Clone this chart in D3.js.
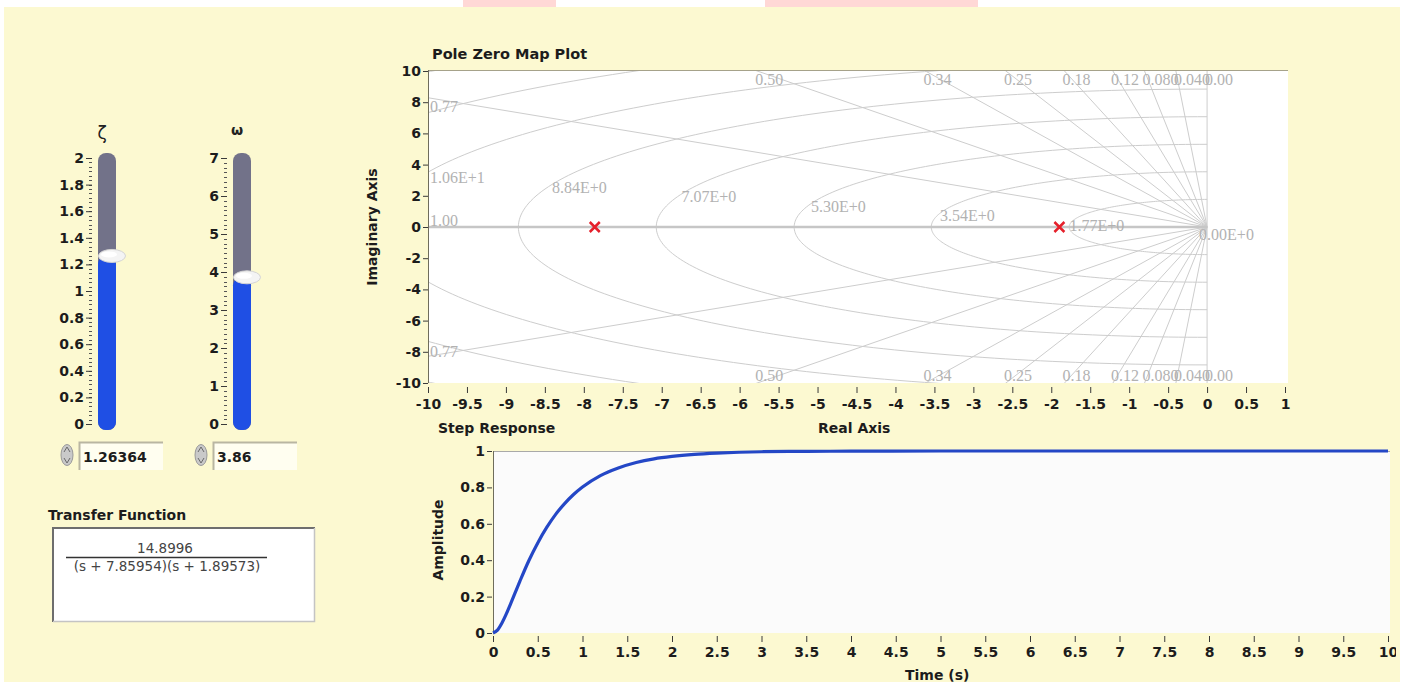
<!DOCTYPE html>
<meta charset="utf-8">
<style>
body { margin: 0; background: #fff; }
svg { display: block; }
.tick text, .lbl { font: bold 14px "DejaVu Sans", sans-serif; fill: #1c1c1c; }
.tick line { stroke: #3a3a3a; }
.grid path, .grid line { fill: none; stroke: #cdcdcd; stroke-width: 1; }
.grid text { font: 16px "Liberation Serif", serif; fill: #b2b2b2; }
.minor { stroke: #555; stroke-width: 1; }
.tf { font: 13.5px "DejaVu Sans", sans-serif; fill: #444; }
</style>

<svg width="1405" height="682"></svg>
<script src="https://cdn.jsdelivr.net/npm/d3@7"></script>

<script>

// slider scales and values
var zetaTicks = [0, 0.2, 0.4, 0.6, 0.8, 1, 1.2, 1.4, 1.6, 1.8, 2];
var omegaTicks = [0, 1, 2, 3, 4, 5, 6, 7];
var zetaValue = 1.26364;
var omegaValue = 3.86;

// transfer function
var gain = "14.8996";
var poleText = ["7.85954", "1.89573"];

// pole zero map
var poles = [-7.85954, -1.89573];
var reTicks = [-10, -9.5, -9, -8.5, -8, -7.5, -7, -6.5, -6, -5.5, -5, -4.5, -4, -3.5, -3, -2.5, -2, -1.5, -1, -0.5, 0, 0.5, 1];
var imTicks = [-10, -8, -6, -4, -2, 0, 2, 4, 6, 8, 10];
var dampingRatios = [0, 0.04, 0.08, 0.12, 0.18, 0.25, 0.34, 0.50, 0.77, 1.00];
var dampingLabels = ["0.00", "0.040", "0.080", "0.12", "0.18", "0.25", "0.34", "0.50", "0.77", "1.00"];
var natFreqs = [0, 1.77, 3.54, 5.30, 7.07, 8.84, 10.6, 12.4, 14.1];
var natFreqLabels = ["0.00E+0", "1.77E+0", "3.54E+0", "5.30E+0", "7.07E+0", "8.84E+0", "1.06E+1", "", ""];

// step response
var stepTime = [0, 0.05, 0.1, 0.15, 0.2, 0.3, 0.4, 0.5, 0.6, 0.7, 0.8, 0.9, 1.0, 1.2, 1.4, 1.6, 1.8, 2.0, 2.25, 2.5, 3.0, 3.5, 4.0, 5.0, 6, 7, 8, 9, 10];
var stepAmp = [0, 0.016, 0.055, 0.106, 0.164, 0.284, 0.397, 0.495, 0.580, 0.652, 0.711, 0.761, 0.802, 0.865, 0.907, 0.937, 0.957, 0.970, 0.981, 0.988, 0.996, 0.998, 0.999, 1, 1, 1, 1, 1, 1];
var timeTicks = [0, 0.5, 1, 1.5, 2, 2.5, 3, 3.5, 4, 4.5, 5, 5.5, 6, 6.5, 7, 7.5, 8, 8.5, 9, 9.5, 10];
var ampTicks = [0, 0.2, 0.4, 0.6, 0.8, 1];

var svg = d3.select("svg");

// panel background + the pink bits along the top edge
svg.append("rect").attr("x", 4).attr("y", 7).attr("width", 1396).attr("height", 675).attr("fill", "#fcf9d1");
svg.append("rect").attr("x", 463).attr("y", 0).attr("width", 93).attr("height", 7).attr("fill", "#ffd8d6");
svg.append("rect").attr("x", 765).attr("y", 0).attr("width", 213).attr("height", 7).attr("fill", "#ffd8d6");

function noDomain(g) { g.select(".domain").remove(); }

// ---------- vertical sliders ----------
function slider(x, max, ticks, minorStep, value, symbol, symStyle) {
    var g = svg.append("g");
    var y = d3.scaleLinear().domain([0, max]).range([424, 158]);

    g.append("text")
        .attr("x", x + 4).attr("y", symStyle.y)
        .attr("text-anchor", "middle")
        .style("font", symStyle.font)
        .style("fill", "#222")
        .text(symbol);

    g.selectAll(".minor")
        .data(d3.range(0, max + 1e-9, minorStep))
        .enter().append("line")
        .attr("class", "minor")
        .attr("x1", x - 9).attr("x2", x - 6)
        .attr("y1", function(d) { return Math.round(y(d)) + 0.5; })
        .attr("y2", function(d) { return Math.round(y(d)) + 0.5; });

    g.append("g")
        .attr("transform", "translate(" + (x - 6) + ",0)")
        .call(d3.axisLeft(y).tickValues(ticks).tickSize(6).tickPadding(2).tickFormat(String))
        .call(noDomain);

    g.append("rect")
        .attr("x", x).attr("y", 153).attr("width", 18).attr("height", 277).attr("rx", 8)
        .attr("fill", "#727289");
    g.append("rect")
        .attr("x", x).attr("y", y(value)).attr("width", 18).attr("height", 430 - y(value)).attr("rx", 8)
        .attr("fill", "#1f4fe4");

    g.append("ellipse")
        .attr("cx", x + 14).attr("cy", y(value))
        .attr("rx", 13.5).attr("ry", 6.5)
        .attr("fill", "#f4f4f4").attr("stroke", "#d4d4d4");
    g.append("ellipse")
        .attr("cx", x + 11).attr("cy", y(value) - 1.5)
        .attr("rx", 8).attr("ry", 3)
        .attr("fill", "#ffffff");
}

slider(98, 2, zetaTicks, 0.2 / 6, zetaValue, "\u03B6", {y: 139, font: "17px 'DejaVu Sans', sans-serif"});
slider(233, 7, omegaTicks, 1 / 8, omegaValue, "\u03C9", {y: 135, font: "bold 14px 'DejaVu Sans', sans-serif"});

// numeric controls below the sliders
function numeric(x, text) {
    var g = svg.append("g");
    g.append("ellipse").attr("cx", x - 12).attr("cy", 455).attr("rx", 6).attr("ry", 10.5)
        .attr("fill", "#c9c9c9").attr("stroke", "#9a9a9a");
    g.append("path")
        .attr("d", "M" + (x - 15) + ",452 l3,-5 l3,5 M" + (x - 15) + ",458 l3,5 l3,-5")
        .attr("fill", "none").attr("stroke", "#6a6a6a");
    g.append("rect").attr("x", x).attr("y", 442).attr("width", 84).attr("height", 28).attr("fill", "#fffef0");
    g.append("path").attr("d", "M" + (x + 0.5) + ",470 V442.5 H" + (x + 84))
        .attr("fill", "none").attr("stroke", "#b9b6a2").attr("stroke-width", 2);
    g.append("text").attr("class", "lbl").attr("x", x + 4).attr("y", 462).text(text);
}
numeric(79, String(zetaValue));
numeric(213, String(omegaValue));

// ---------- transfer function ----------
svg.append("text").attr("class", "lbl").attr("x", 48).attr("y", 520).text("Transfer Function");
svg.append("rect").attr("x", 52).attr("y", 527).attr("width", 263).attr("height", 95).attr("fill", "#fff");
svg.append("path").attr("d", "M53,622 V528 H315").attr("fill", "none").attr("stroke", "#6e6e6e").attr("stroke-width", 2);
svg.append("path").attr("d", "M53,621.5 H314.5 V528").attr("fill", "none").attr("stroke", "#c4c4c4").attr("stroke-width", 1.5);
svg.append("text").attr("class", "tf").attr("x", 165).attr("y", 553).attr("text-anchor", "middle").text(gain);
svg.append("line").attr("x1", 66).attr("x2", 267).attr("y1", 557.5).attr("y2", 557.5).attr("stroke", "#333").attr("stroke-width", 1.5);
svg.append("text").attr("class", "tf").attr("x", 167).attr("y", 571).attr("text-anchor", "middle")
    .text("(s + " + poleText[0] + ")(s + " + poleText[1] + ")");

// ---------- pole zero map ----------
var px = d3.scaleLinear().domain([-10, 1]).range([428, 1285]);
var py = d3.scaleLinear().domain([-10, 10]).range([383, 71]);

svg.append("text").attr("class", "lbl").attr("x", 432).attr("y", 59).style("font-size", "14.5px").text("Pole Zero Map Plot");
svg.append("rect").attr("x", 428).attr("y", 70).attr("width", 860).attr("height", 313).attr("fill", "#fff");

svg.append("clipPath").attr("id", "pzclip")
    .append("rect").attr("x", 428).attr("y", 70).attr("width", 860).attr("height", 313);

var grid = svg.append("g").attr("class", "grid").attr("clip-path", "url(#pzclip)");

// constant natural frequency arcs (left half plane)
var arc = d3.line()
    .x(function(d) { return px(d[0]); })
    .y(function(d) { return py(d[1]); });
grid.selectAll("path.wn")
    .data(natFreqs.filter(function(r) { return r > 0; }))
    .enter().append("path")
    .attr("class", "wn")
    .attr("d", function(r) {
        return arc(d3.range(90, 270.5, 1).map(function(a) {
            var t = a * Math.PI / 180;
            return [r * Math.cos(t), r * Math.sin(t)];
        }));
    });

// constant damping rays
grid.selectAll("path.zeta")
    .data(dampingRatios)
    .enter().append("path")
    .attr("class", "zeta")
    .style("stroke-width", function(d) { return d === 1 ? 2.5 : 1; })
    .style("stroke", function(d) { return d === 1 ? "#c6c6c6" : null; })
    .attr("d", function(z) {
        var s = Math.sqrt(1 - z * z), L = 30;
        return arc([[-z * L, s * L], [0, 0], [-z * L, -s * L]]);
    });

// damping labels
var zlab = svg.append("g").attr("class", "grid");
dampingRatios.forEach(function(z, i) {
    var s = Math.sqrt(1 - z * z);
    if (z === 1) {
        zlab.append("text").attr("x", 430).attr("y", py(0) - 1).text(dampingLabels[i]);
        return;
    }
    var xTop = z === 0 ? 0 : -10 * z / s;
    if (xTop >= -10) {
        zlab.append("text").attr("x", px(xTop) - 2).attr("y", py(10) + 14).text(dampingLabels[i]);
        zlab.append("text").attr("x", px(xTop) - 2).attr("y", py(-10) - 2).text(dampingLabels[i]);
    } else {
        var yL = 10 * s / z;
        zlab.append("text").attr("x", 430).attr("y", py(yL) + 14).text(dampingLabels[i]);
        zlab.append("text").attr("x", 430).attr("y", py(-yL) + 1).text(dampingLabels[i]);
    }
});

// natural frequency labels
var th = 20 * Math.PI / 180;
natFreqs.forEach(function(r, i) {
    if (!natFreqLabels[i]) return;
    var xr = -r * Math.cos(th), yr = r * Math.sin(th);
    zlab.append("text")
        .attr("x", Math.max(430, px(xr) - 8))
        .attr("y", py(yr) + 13)
        .text(natFreqLabels[i]);
});

// frame
svg.append("line").attr("x1", 428).attr("x2", 1288).attr("y1", 70.5).attr("y2", 70.5).attr("stroke", "#a6a28a");
svg.append("line").attr("x1", 428.5).attr("x2", 428.5).attr("y1", 70).attr("y2", 383).attr("stroke", "#6f6d5c");

// poles
svg.append("g").selectAll("path")
    .data(poles)
    .enter().append("path")
    .attr("d", function(p) {
        var cx = px(p), cy = py(0);
        return "M" + (cx - 5) + "," + (cy - 5) + "L" + (cx + 5) + "," + (cy + 5) +
               "M" + (cx - 5) + "," + (cy + 5) + "L" + (cx + 5) + "," + (cy - 5);
    })
    .attr("stroke", "#e5202b").attr("stroke-width", 2.5).attr("fill", "none");

// axes
svg.append("g").attr("transform", "translate(428,0)")
    .call(d3.axisLeft(py).tickValues(imTicks).tickSize(5).tickPadding(2).tickFormat(String))
    .call(noDomain);
svg.append("g").attr("transform", "translate(0,387)")
    .call(d3.axisBottom(px).tickValues(reTicks).tickSize(6).tickPadding(6).tickFormat(String))
    .call(noDomain);

svg.append("text").attr("class", "lbl")
    .attr("transform", "translate(377,227) rotate(-90)")
    .attr("text-anchor", "middle")
    .text("Imaginary Axis");
svg.append("text").attr("class", "lbl").attr("x", 818).attr("y", 433).text("Real Axis");

// ---------- step response ----------
var sx = d3.scaleLinear().domain([0, 10]).range([493, 1388]);
var sy = d3.scaleLinear().domain([0, 1]).range([633, 451]);

svg.append("text").attr("class", "lbl").attr("x", 438).attr("y", 433).text("Step Response");
svg.append("rect").attr("x", 493).attr("y", 451).attr("width", 897).attr("height", 182).attr("fill", "#fbfbfb");
svg.append("line").attr("x1", 493).attr("x2", 1390).attr("y1", 451.5).attr("y2", 451.5).attr("stroke", "#a9a9a9");
svg.append("line").attr("x1", 493.5).attr("x2", 493.5).attr("y1", 451).attr("y2", 633).attr("stroke", "#6f6d5c");

svg.append("path")
    .datum(stepTime.map(function(t, i) { return [t, stepAmp[i]]; }))
    .attr("d", d3.line()
        .x(function(d) { return sx(d[0]); })
        .y(function(d) { return sy(d[1]); })
        .curve(d3.curveMonotoneX))
    .attr("fill", "none").attr("stroke", "#2447c6").attr("stroke-width", 3.2);

svg.append("g").attr("transform", "translate(492,0)")
    .call(d3.axisLeft(sy).tickValues(ampTicks).tickSize(5).tickPadding(2).tickFormat(String))
    .call(noDomain);

svg.append("clipPath").attr("id", "edge")
    .append("rect").attr("x", 0).attr("y", 0).attr("width", 1396).attr("height", 682);
svg.append("g").attr("clip-path", "url(#edge)")
    .append("g").attr("transform", "translate(0,636)")
    .call(d3.axisBottom(sx).tickValues(timeTicks).tickSize(6).tickPadding(5).tickFormat(String))
    .call(noDomain);

svg.append("text").attr("class", "lbl")
    .attr("transform", "translate(443,540) rotate(-90)")
    .attr("text-anchor", "middle")
    .text("Amplitude");
svg.append("text").attr("class", "lbl").attr("x", 905).attr("y", 680).text("Time (s)");

</script>
